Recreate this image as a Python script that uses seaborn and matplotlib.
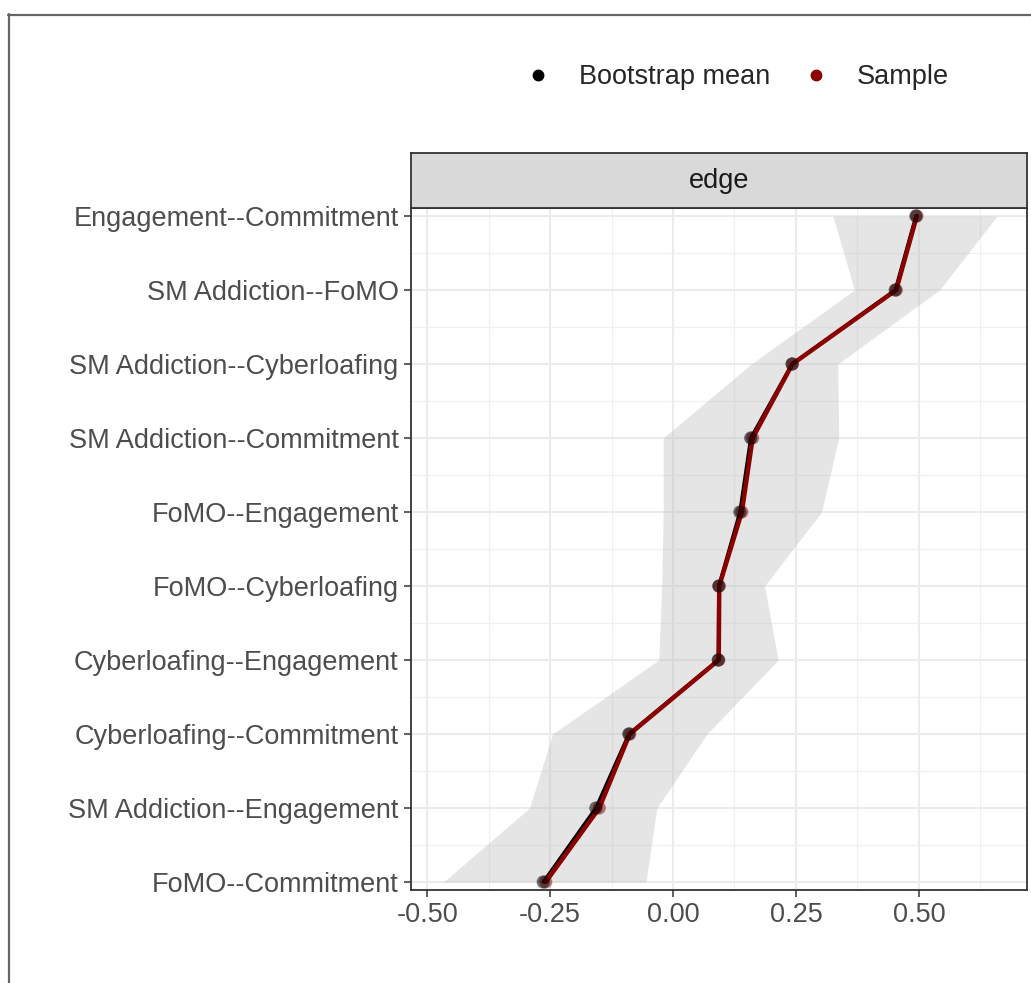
import numpy as np
import pandas as pd
import matplotlib
matplotlib.use("Agg")
import matplotlib.pyplot as plt
from matplotlib.lines import Line2D
import seaborn as sns

# edge labels, top to bottom
edges = ["Engagement--Commitment", "SM Addiction--FoMO", "SM Addiction--Cyberloafing",
         "SM Addiction--Commitment", "FoMO--Engagement", "FoMO--Cyberloafing",
         "Cyberloafing--Engagement", "Cyberloafing--Commitment",
         "SM Addiction--Engagement", "FoMO--Commitment"]
sample = [0.496, 0.454, 0.243, 0.162, 0.140, 0.094, 0.093, -0.088, -0.150, -0.259]
boot_mean = [0.494, 0.452, 0.242, 0.158, 0.136, 0.093, 0.092, -0.090, -0.157, -0.264]
ci_low = [0.325, 0.369, 0.159, -0.020, -0.020, -0.023, -0.029, -0.245, -0.292, -0.467]
ci_high = [0.659, 0.542, 0.335, 0.337, 0.302, 0.186, 0.214, 0.069, -0.033, -0.055]
xticks = [-0.50, -0.25, 0.00, 0.25, 0.50]

df = pd.DataFrame({"edge": edges, "pos": np.arange(len(edges)),
                   "sample": sample, "mean": boot_mean,
                   "lo": ci_low, "hi": ci_high})

sns.set_theme(style="white")
plt.rcParams["font.family"] = ["Liberation Sans", "DejaVu Sans"]
FS = 19.5

fig = plt.figure(figsize=(10.31, 9.83), dpi=100)
W, H = 1031, 983
ax = fig.add_axes([411 / W, 1 - 890 / H, (1027 - 411) / W, (890 - 208) / H])
strip = fig.add_axes([411 / W, 1 - 208 / H, (1027 - 411) / W, (208 - 153) / H])

# grid
for v in np.arange(-0.5, 0.751, 0.25):
    ax.axvline(v, color="#EBEBEB", lw=1.5, zorder=0)
for v in np.arange(-0.375, 0.751, 0.25):
    ax.axvline(v, color="#F0F0F0", lw=0.9, zorder=0)
for p in df["pos"]:
    ax.axhline(p, color="#EBEBEB", lw=1.5, zorder=0)
for p in df["pos"][:-1] + 0.5:
    ax.axhline(p, color="#F0F0F0", lw=0.9, zorder=0)

# ribbon (CI)
ax.fill_betweenx(df["pos"], df["lo"], df["hi"], color="#BEBEBE", alpha=0.4,
                 linewidth=0, zorder=1)

# lines
sns.lineplot(data=df, x="mean", y="pos", sort=False, estimator=None,
             color="black", lw=2.4, ax=ax, zorder=2)
sns.lineplot(data=df, x="sample", y="pos", sort=False, estimator=None,
             color="#8B0000", lw=3.2, ax=ax, zorder=3)
# points
sns.scatterplot(data=df, x="sample", y="pos", color="#8B0000", s=90, alpha=0.5,
                edgecolor="none", ax=ax, zorder=4)
sns.scatterplot(data=df, x="mean", y="pos", color="black", s=90, alpha=0.55,
                edgecolor="none", ax=ax, zorder=5)

ax.set_xlim(-0.533, 0.72)
ax.set_ylim(len(edges) - 1 + 0.108, -0.108)
ax.set_xticks(xticks)
ax.set_xticklabels([f"{v:.2f}" for v in xticks])
ax.set_yticks(df["pos"])
ax.set_yticklabels(edges)
ax.set_xlabel("")
ax.set_ylabel("")
ax.tick_params(axis="both", labelsize=FS, colors="#4D4D4D", length=5, width=1.1,
               direction="out", bottom=True, left=True, pad=4)
ax.tick_params(axis="both", color="#333333")
for s in ax.spines.values():
    s.set_color("#333333")
    s.set_linewidth(1.3)

# facet strip
strip.set_facecolor("#D9D9D9")
strip.set_xticks([])
strip.set_yticks([])
for s in strip.spines.values():
    s.set_color("#333333")
    s.set_linewidth(1.3)
strip.text(0.5, 0.5, "edge", ha="center", va="center", fontsize=FS,
           color="#1A1A1A", transform=strip.transAxes)

# legend
handles = [Line2D([], [], marker="o", ls="", color="black", markersize=7.5),
           Line2D([], [], marker="o", ls="", color="#8B0000", markersize=7.5)]
fig.legend(handles, ["Bootstrap mean", "Sample"], loc="center",
           bbox_to_anchor=(737 / W, 1 - 77 / H), ncol=2, frameon=False,
           fontsize=FS, handlelength=1.0, handletextpad=1.0, columnspacing=1.2)

# outer border (cropped at right/bottom)
fig.add_artist(Line2D([8.5 / W, 8.5 / W], [0, 1 - 14 / H], color="#666666", lw=1.6))
fig.add_artist(Line2D([8 / W, 1], [1 - 14.5 / H, 1 - 14.5 / H], color="#666666", lw=1.6))

fig.savefig("out.png", dpi=100, facecolor="white")
